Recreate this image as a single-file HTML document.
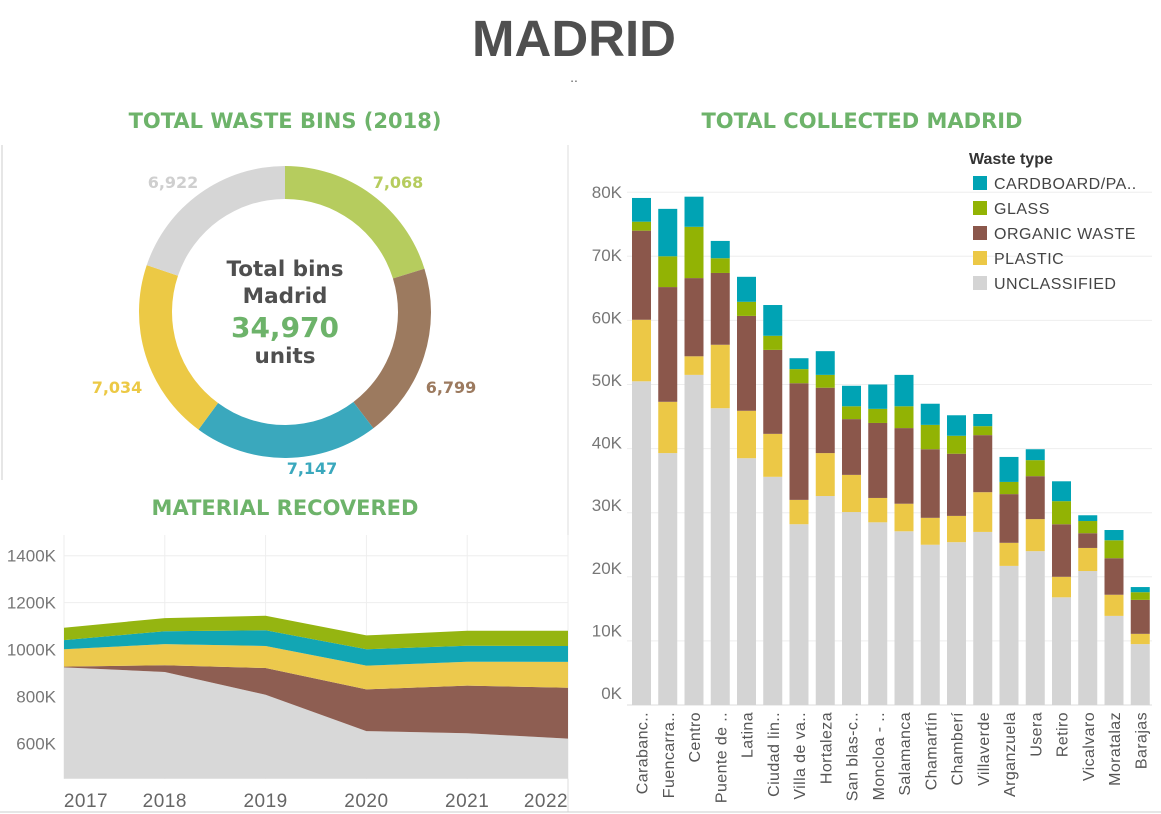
<!DOCTYPE html>
<html><head><meta charset="utf-8"><style>
body{margin:0;width:1161px;height:814px;background:#fff;font-family:"Liberation Sans",sans-serif;overflow:hidden;position:relative}
svg{position:absolute;left:0;top:0}
</style></head><body>
<svg id="s" width="1161" height="814">
<text x="574" y="56" text-anchor="middle" font-size="51" font-weight="bold" fill="#4f4f4f">MADRID</text>
<text x="574" y="82" text-anchor="middle" font-size="14" fill="#666">..</text>
<g font-family="DejaVu Sans, sans-serif" font-size="21" font-weight="bold" fill="#6db36a" text-anchor="middle">
<text x="285" y="128">TOTAL WASTE BINS (2018)</text>
<text x="862" y="128">TOTAL COLLECTED MADRID</text>
<text x="285" y="515">MATERIAL RECOVERED</text>
</g>
<line x1="2" y1="145" x2="2" y2="480" stroke="#ccc"/>
<line x1="568" y1="145" x2="568" y2="812" stroke="#ddd"/>
<line x1="0" y1="812" x2="1161" y2="812" stroke="#ccc"/>
<g id="donut"></g>
<g font-family="DejaVu Sans, sans-serif" font-weight="bold" text-anchor="middle">
<text x="285" y="276" font-size="21.5" fill="#4f4f4f">Total bins</text>
<text x="285" y="303" font-size="21.5" fill="#4f4f4f">Madrid</text>
<text x="285" y="337" font-size="28" fill="#6db36a">34,970</text>
<text x="285" y="363" font-size="21.5" fill="#4f4f4f">units</text>
</g>
<g id="area"></g>
<g id="bars"></g>
<g id="legend"></g>
</svg>
<script>
const NS="http://www.w3.org/2000/svg";
function mk(p,t,a){const e=document.createElementNS(NS,t);for(const k in a)e.setAttribute(k,a[k]);p.appendChild(e);return e;}

// Donut data
const donutLabels=["7,068","6,799","7,147","7,034","6,922"];
const donutValues=[7068,6799,7147,7034,6922];
const donutColors=["#b6cc5e","#9c7a5f","#3aa8bd","#ecc945","#d6d6d6"];
const donutNames=["glass","organic","cardboard","plastic","unclassified"];
const donutLabelPos=[[398,188],[451,393],[312,474],[117,393],[173,188]];
(function(){
 const g=document.getElementById('donut');const cx=285,cy=312,R=146,r=113;
 const tot=donutValues.reduce((a,b)=>a+b,0);let a0=0;
 const labels=[];
 donutValues.forEach((v,i)=>{
  const a1=a0+v/tot*2*Math.PI;
  const p=(a,rr)=>[cx+rr*Math.sin(a),cy-rr*Math.cos(a)];
  const [x0,y0]=p(a0,R),[x1,y1]=p(a1,R),[x2,y2]=p(a1,r),[x3,y3]=p(a0,r);
  const lg=(a1-a0)>Math.PI?1:0;
  const e=mk(g,'path',{d:`M${x0},${y0}A${R},${R} 0 ${lg} 1 ${x1},${y1}L${x2},${y2}A${r},${r} 0 ${lg} 0 ${x3},${y3}Z`,fill:donutColors[i]});
  
  
  labels.push(i);
  a0=a1;
 });
 labels.forEach(i=>{
  const [lx,ly]=donutLabelPos[i];
  const t=mk(g,'text',{x:lx,y:ly,'text-anchor':'middle','font-size':16,'font-weight':'bold','font-family':'DejaVu Sans, sans-serif',fill:donutColors[i]==="#d6d6d6"?"#cfcfcf":donutColors[i]});
  t.textContent=donutLabels[i];
  
  
 });
})();

// Area chart data (stacked layer thickness, in K)
const years=["2017","2018","2019","2020","2021","2022"];
const unclassified=[924,904,807,652,643,620];
const organic=[3,29,114,178,203,217];
const plastic=[74,90,94,101,102,110];
const cardboard=[39,55,67,70,68,68];
const glass=[53,56,62,59,64,65];
const areaTicks=[600,800,1000,1200,1400];
(function(){
 const g=document.getElementById('area');
 const x0=64,x1=568,yb=778.7;
 const X=i=>x0+i*(x1-x0)/(years.length-1);
 const Y=v=>743.3-(v-600)*46.9/200;
 areaTicks.forEach(t=>{
  const l=mk(g,'line',{x1:x0,x2:x1,y1:Y(t),y2:Y(t),stroke:'#eee'});
  
  
  const tx=mk(g,'text',{x:56,y:Y(t)+6,'text-anchor':'end','font-size':17,fill:'#777'});
  tx.textContent=t+'K';
  
  
 });
 years.forEach((y,i)=>{
  const l=mk(g,'line',{x1:X(i),x2:X(i),y1:535,y2:yb,stroke:'#eee'});
  
  
 });
 const series=[unclassified,organic,plastic,cardboard,glass];
 const cols=["#d8d8d8","#8e5e52","#ecc94d","#12a6b4","#95b511"];
 const nm=["unclassified","organic","plastic","cardboard","glass"];
 let cum=years.map(()=>0);
 series.forEach((s,k)=>{
  const lo=cum.slice();cum=cum.map((c,i)=>c+s[i]);
  let d='M'+years.map((_,i)=>X(i)+','+Y(cum[i])).join('L');
  for(let i=years.length-1;i>=0;i--) d+='L'+X(i)+','+(k===0?yb:Y(lo[i]));
  const p=mk(g,'path',{d:d+'Z',fill:cols[k]});
  
  
 });
 years.forEach((y,i)=>{
  let xx=X(i);
  if(i===0){xx=x0+22;} if(i===years.length-1){xx=x1-22;}
  const t=mk(g,'text',{x:xx,y:807,'text-anchor':'middle','font-size':19,fill:'#666','letter-spacing':'0.5'});
  t.textContent=y;
  
  
 });
})();

// Bar chart data (K)
const districts=["Carabanc..","Fuencarra..","Centro","Puente de ..","Latina","Ciudad lin..","Villa de va..","Hortaleza","San blas-c..","Moncloa - ..","Salamanca","Chamartín","Chamberí","Villaverde","Arganzuela","Usera","Retiro","Vicalvaro","Moratalaz","Barajas"];
const barUnclassified=[50.5,39.3,51.5,46.3,38.5,35.6,28.2,32.6,30.1,28.5,27.1,25.0,25.4,27.0,21.7,24.0,16.8,20.9,13.9,9.5];
const barPlastic=[9.6,8.0,2.9,9.9,7.4,6.7,3.8,6.7,5.8,3.8,4.3,4.2,4.1,6.2,3.6,5.0,3.2,3.6,3.3,1.6];
const barOrganic=[13.9,17.9,12.2,11.2,14.8,13.1,18.2,10.2,8.7,11.7,11.8,10.7,9.7,8.9,7.6,6.7,8.2,2.3,5.7,5.3];
const barGlass=[1.4,4.8,8.0,2.3,2.2,2.2,2.2,2.0,2.0,2.2,3.4,3.8,2.8,1.4,1.9,2.5,3.6,1.9,2.8,1.2];
const barCardboard=[3.7,7.4,4.7,2.7,3.9,4.8,1.7,3.7,3.2,3.8,4.9,3.3,3.2,1.9,3.9,1.7,3.1,0.9,1.6,0.8];
const barTicks=[0,10,20,30,40,50,60,70,80];
(function(){
 const g=document.getElementById('bars');
 const xl=627,xr=1152,yb=705;
 const Y=v=>yb-v*6.41;
 const pitch=(xr-xl)/districts.length,bw=19;
 barTicks.forEach(t=>{
  const l=mk(g,'line',{x1:xl,x2:xr,y1:Y(t),y2:Y(t),stroke:'#eee'});
  
  
  const tx=mk(g,'text',{x:622,y:Y(t)+6-(1-t/80)*12,'text-anchor':'end','font-size':17,fill:'#777'});
  tx.textContent=t+'K';
  
  
 });
 mk(g,'line',{x1:xl,x2:xr,y1:yb,y2:yb,stroke:'#ddd'});
 const series=[barUnclassified,barPlastic,barOrganic,barGlass,barCardboard];
 const cols=["#d4d4d4","#ecc846","#8b574b","#92b304","#00a3b4"];
 const nm=["unclassified","plastic","organic","glass","cardboard"];
 districts.forEach((d,i)=>{
  const x=xl+5+i*pitch;let c=0;
  series.forEach((s,k)=>{
   const r=mk(g,'rect',{x:x,y:Y(c+s[i]),width:bw,height:s[i]*6.41,fill:cols[k]});
   
   
   c+=s[i];
  });
  const t=mk(g,'text',{x:0,y:0,'text-anchor':'end','font-size':16,fill:'#555','letter-spacing':'0.4',transform:`translate(${x+bw/2+6},712) rotate(-90)`});
  t.textContent=d;
  
  
 });
})();

// Legend
const legendNames=["CARDBOARD/PA..","GLASS","ORGANIC WASTE","PLASTIC","UNCLASSIFIED"];
const legendColors=["#00a3b4","#92b304","#8b574b","#ecc846","#d4d4d4"];
(function(){
 const g=document.getElementById('legend');
 const h=mk(g,'text',{x:969,y:164,'font-size':16,'font-weight':'bold',fill:'#333'});
 h.textContent='Waste type';
 
 
 legendNames.forEach((n,i)=>{
  const y=176+i*25;
  const r=mk(g,'rect',{x:973,y:y,width:14,height:14,fill:legendColors[i]});
  
  
  const t=mk(g,'text',{x:994,y:y+13,'font-size':16,fill:'#444','letter-spacing':'0.5'});
  t.textContent=n;
  
  
 });
})();
</script>
</body></html>
